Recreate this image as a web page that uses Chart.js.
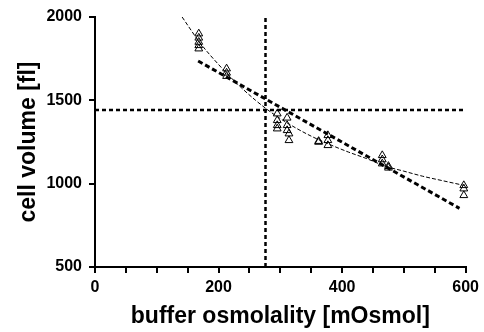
<!DOCTYPE html>
<html>
<head>
<meta charset="utf-8">
<script src="https://cdn.jsdelivr.net/npm/chart.js@4.4.0/dist/chart.umd.min.js"></script>
<style>
html,body{margin:0;padding:0;background:#fff;}
#wrap{width:484px;height:332px;position:relative;}
</style>
</head>
<body>
<div id="wrap"><canvas id="c" width="484" height="332"></canvas></div>
<script>
// measured cell volumes
const pointOsm = [168,168,168,168,168, 213,213,213, 295,295,295,295, 311,311,311,314,314, 362,362, 377,377,377, 465,465,465, 475,475, 597,597,597];
const pointVol = [1900,1875,1850,1830,1810, 1690,1665,1645, 1420,1380,1350,1330, 1395,1350,1320,1300,1260, 1255,1250, 1290,1260,1230, 1170,1145,1120, 1105,1095, 990,970,930];
// fitted curve (thin dashed)
const curveOsm = [141,170,200,230,260,290,320,350,380,410,440,470,500,530,560,597];
const curveVol = [2000,1845,1715,1600,1500,1415,1345,1285,1235,1190,1150,1105,1075,1045,1020,990];
// linear regression (thick dashed)
const regOsm = [167,590];
const regVol = [1736,852];
// reference lines (dotted)
const isoOsm = 276;
const isoVol = 1442;
const xRange = [0,600];
const yRange = [500,2000];
const xLabelEvery = 200;

const toXY = (xs, ys) => xs.map((x,i)=>({x:x, y:ys[i]}));
const FONT = "'Liberation Sans', Arial, sans-serif";

new Chart(document.getElementById('c'), {
  type: 'scatter',
  data: {
    datasets: [
      {
        type:'line', data: toXY([xRange[0], xRange[1]], [isoVol, isoVol]),
        borderColor:'#000', borderWidth:2.5, borderDash:[4,3], pointRadius:0, fill:false
      },
      {
        type:'line', data: toXY([isoOsm, isoOsm], [yRange[0], yRange[1]]),
        borderColor:'#000', borderWidth:2.5, borderDash:[4,3], pointRadius:0, fill:false
      },
      {
        type:'line', data: toXY(regOsm, regVol),
        borderColor:'#000', borderWidth:3, borderDash:[5,3], pointRadius:0, fill:false
      },
      {
        type:'line', data: toXY(curveOsm, curveVol),
        borderColor:'#000', borderWidth:1, borderDash:[4,2], pointRadius:0, fill:false,
        cubicInterpolationMode:'monotone'
      },
      {
        type:'scatter', data: toXY(pointOsm, pointVol),
        pointStyle:'triangle', pointRadius:4.5, borderColor:'#000', borderWidth:1,
        backgroundColor:'rgba(255,255,255,0)'
      }
    ]
  },
  options: {
    responsive:false,
    animation:false,
    clip:false,
    layout:{padding:{top:17,right:1,bottom:0,left:0}},
    plugins:{legend:{display:false}, tooltip:{enabled:false}},
    scales:{
      x:{
        type:'linear', min:xRange[0], max:xRange[1],
        border:{display:true,color:'#000',width:2},
        grid:{drawOnChartArea:false, color:'#000', tickColor:'#000', tickLength:6, lineWidth:2},
        ticks:{stepSize:50, color:'#000', padding:5, maxRotation:0, autoSkip:false,
          font:{family:FONT, size:16, weight:'bold'},
          callback:(v)=> (v % xLabelEvery === 0 ? String(v) : '')},
        title:{display:true, text:'buffer osmolality [mOsmol]', color:'#000',
          font:{family:FONT, size:23, weight:'bold'}, padding:{top:0,bottom:2}},
        afterFit:(s)=>{ s.height = 65; }
      },
      y:{
        type:'linear', min:yRange[0], max:yRange[1],
        border:{display:true,color:'#000',width:2},
        grid:{drawOnChartArea:false, color:'#000', tickColor:'#000', tickLength:6, lineWidth:2},
        ticks:{stepSize:500, color:'#000', padding:7,
          font:{family:FONT, size:16, weight:'bold'},
          callback:(v)=> String(v)},
        title:{display:true, text:'cell volume [fl]', color:'#000',
          font:{family:FONT, size:23, weight:'bold'}, padding:{top:15,bottom:0}},
        afterFit:(s)=>{ s.width = 95; }
      }
    }
  }
});
</script>
</body>
</html>
